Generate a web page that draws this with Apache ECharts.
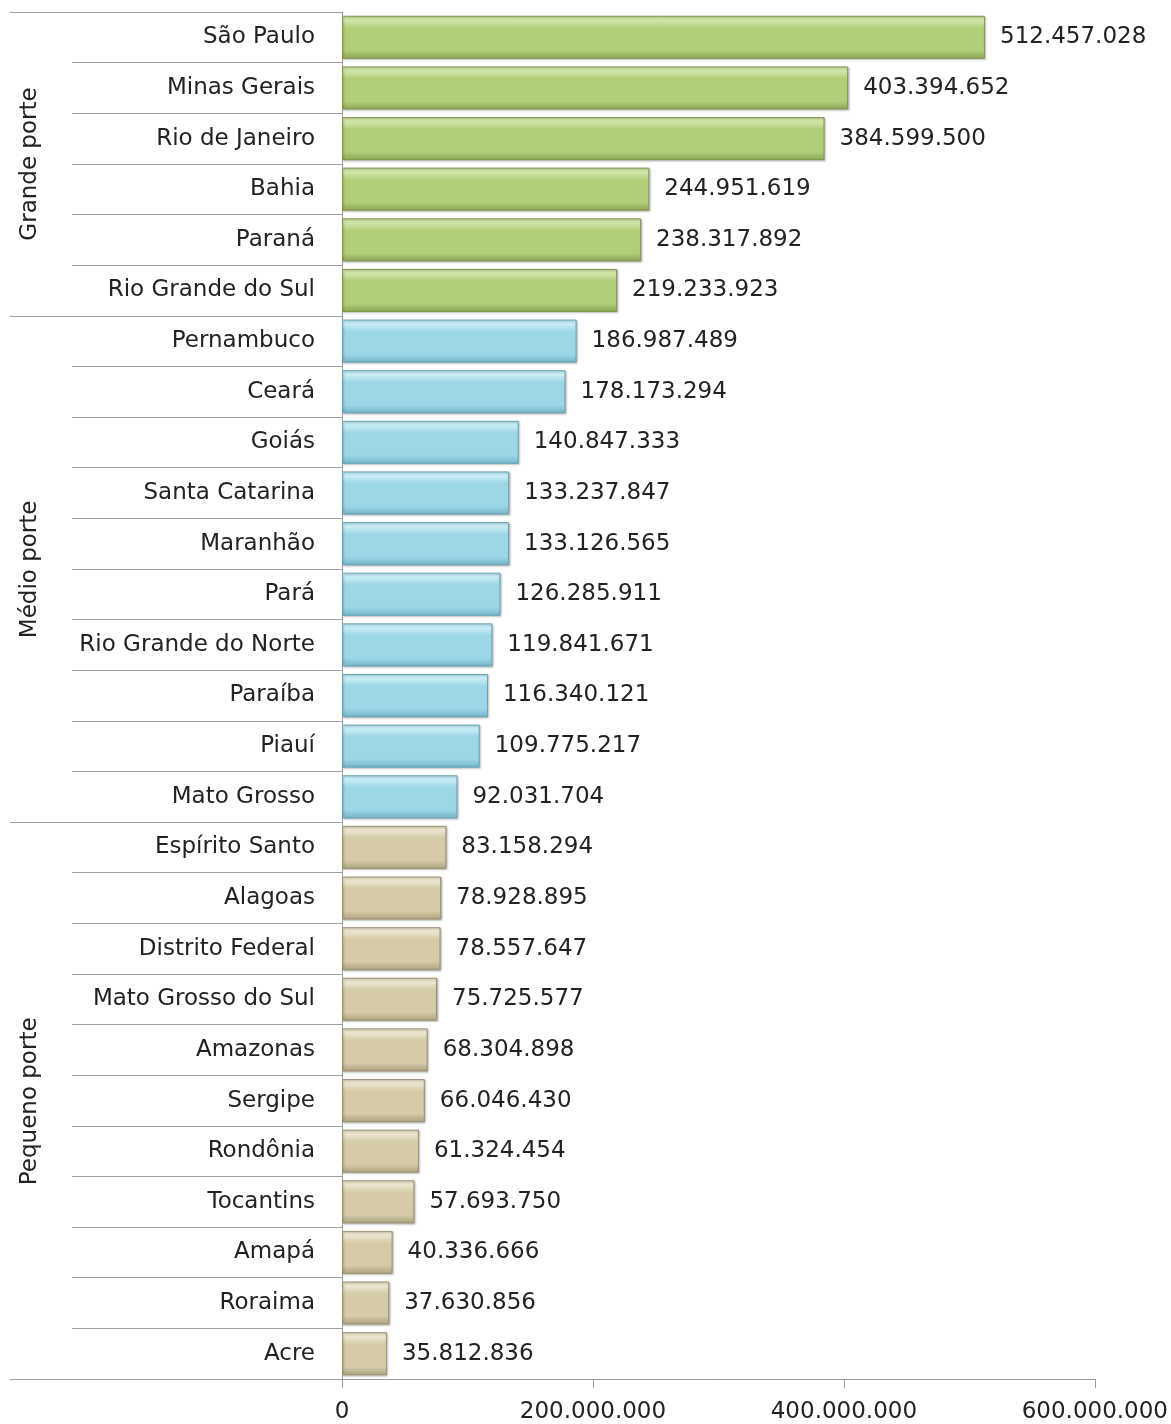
<!DOCTYPE html>
<html>
<head>
<meta charset="utf-8">
<script src="https://cdn.jsdelivr.net/npm/echarts@6/dist/echarts.min.js"></script>
<style>
html,body{margin:0;padding:0;background:#fff;}
#c{width:1171px;height:1424px;}
</style>
</head>
<body>
<div id="c"></div>
<script>
const states = ['São Paulo','Minas Gerais','Rio de Janeiro','Bahia','Paraná','Rio Grande do Sul',
  'Pernambuco','Ceará','Goiás','Santa Catarina','Maranhão','Pará','Rio Grande do Norte','Paraíba','Piauí','Mato Grosso',
  'Espírito Santo','Alagoas','Distrito Federal','Mato Grosso do Sul','Amazonas','Sergipe','Rondônia','Tocantins','Amapá','Roraima','Acre'];
const values = [512457028,403394652,384599500,244951619,238317892,219233923,
  186987489,178173294,140847333,133237847,133126565,126285911,119841671,116340121,109775217,92031704,
  83158294,78928895,78557647,75725577,68304898,66046430,61324454,57693750,40336666,37630856,35812836];
const groupNames = ['Grande porte','Médio porte','Pequeno porte'];
const groupSizes = [6,10,11];
const xTicks = [0,200000000,400000000,600000000];

const fmt = v => String(v).replace(/\B(?=(\d{3})+(?!\d))/g,'.');
const FONT = 'DejaVu Sans';

const palettes = [
  {hi:'#cfe5a8', base:'#b1cf79', lo:'#8aa755', border:'#7f9a4c'},
  {hi:'#c6ebf4', base:'#9dd7e7', lo:'#74b4c7', border:'#65a6b9'},
  {hi:'#ebe4cd', base:'#d5cba8', lo:'#ada27e', border:'#9e9370'}
];
function grad(p){
  return {type:'linear',x:0,y:0,x2:0,y2:1,colorStops:[
    {offset:0,color:p.hi},{offset:0.12,color:p.hi},{offset:0.28,color:p.base},
    {offset:0.8,color:p.base},{offset:1,color:p.lo}]};
}
const groupOf = [];
const groupStarts = [];
let acc = 0;
groupSizes.forEach((n,g)=>{groupStarts.push(acc); for(let i=0;i<n;i++) groupOf.push(g); acc+=n;});
const barData = values.map((v,i)=>({value:v,itemStyle:{color:grad(palettes[groupOf[i]]),borderColor:palettes[groupOf[i]].border,borderWidth:1,
  shadowColor:'rgba(0,0,0,0.25)',shadowBlur:2,shadowOffsetX:1,shadowOffsetY:1}}));
const groupLabelData = groupNames.map((n,g)=>[0.5, groupStarts[g] + (groupSizes[g]-1)/2, n]);

const chart = echarts.init(document.getElementById('c'));
chart.setOption({
  animation:false,
  backgroundColor:'#fff',
  grid:[
    {left:342,right:74,top:12,bottom:44,containLabel:false},
    {left:0,width:60,top:12,bottom:44,containLabel:false}
  ],
  xAxis:[
    {type:'value',gridIndex:0,min:xTicks[0],max:xTicks[xTicks.length-1],interval:xTicks[1]-xTicks[0],
     splitLine:{show:false},
     axisLine:{show:true,lineStyle:{color:'#9a9a9a',width:1}},
     axisTick:{show:true,length:9,lineStyle:{color:'#9a9a9a'}},
     axisLabel:{margin:22,fontFamily:FONT,fontSize:23,color:'#222',formatter:v=>fmt(v)}},
    {type:'value',gridIndex:1,min:0,max:1,show:false}
  ],
  yAxis:[
    {type:'category',gridIndex:0,inverse:true,data:states,
     axisLine:{show:true,lineStyle:{color:'#9a9a9a',width:1}},
     axisTick:{show:true,length:270,lineStyle:{color:'#a0a0a0',width:1}},
     axisLabel:{margin:27,fontFamily:FONT,fontSize:23,color:'#222'}},
    {type:'category',gridIndex:0,inverse:true,data:states,position:'left',
     axisLine:{show:false},
     axisLabel:{show:false},
     axisTick:{show:true,length:332,interval:(i)=>groupStarts.indexOf(i)>=0,lineStyle:{color:'#a0a0a0',width:1}}},
    {type:'value',gridIndex:1,inverse:true,min:-0.5,max:states.length-0.5,show:false}
  ],
  series:[
    {type:'bar',xAxisIndex:0,yAxisIndex:0,data:barData,barWidth:'85%',
     label:{show:true,position:'right',distance:15,fontFamily:FONT,fontSize:23,color:'#222',formatter:p=>fmt(p.value)}},
    {type:'scatter',xAxisIndex:1,yAxisIndex:2,symbolSize:0,data:groupLabelData,silent:true,
     itemStyle:{opacity:1},
     label:{show:true,position:'inside',rotate:90,fontFamily:FONT,fontSize:23,color:'#222',opacity:1,formatter:p=>p.data[2]}}
  ]
});
</script>
</body>
</html>
